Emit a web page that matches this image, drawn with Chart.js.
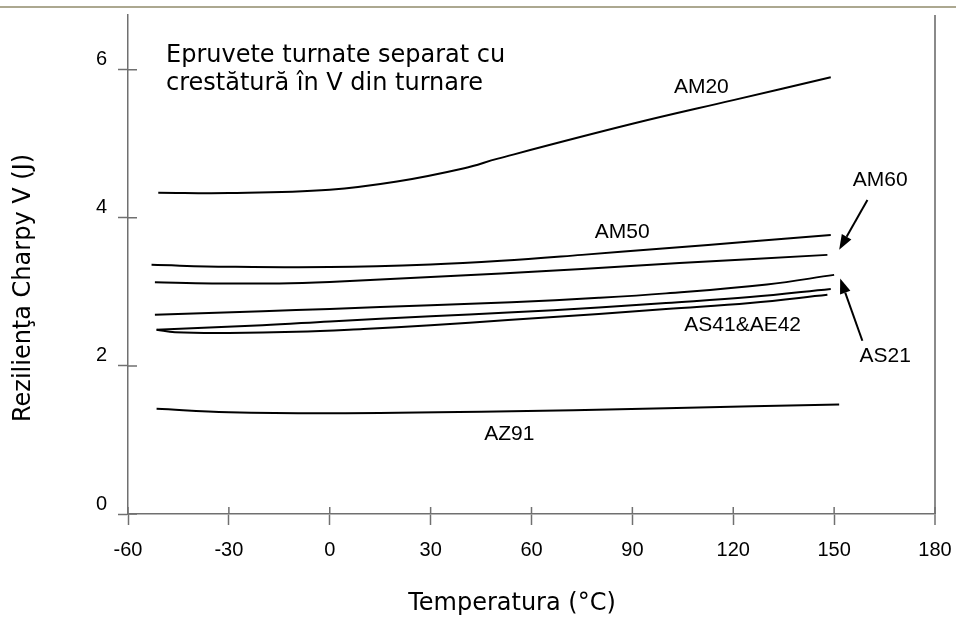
<!DOCTYPE html>
<html>
<head>
<meta charset="utf-8">
<title>Rezilienţa Charpy V</title>
<script src="https://cdn.jsdelivr.net/npm/chart.js@4.4.1/dist/chart.umd.min.js"></script>
<style>
  html, body { margin: 0; padding: 0; background: #fff; }
  #wrap { position: relative; width: 956px; height: 619px; }
  #topline { position: absolute; left: 0; top: 6px; width: 956px; height: 2px; background: #aca890; }
  canvas { position: absolute; left: 0; top: 0; }
</style>
</head>
<body>
<div id="wrap">
  <canvas id="myChart" width="956" height="619"></canvas>
  <div id="topline"></div>
</div>
<script>
// tick values
const xTickValues = [-60, -30, 0, 30, 60, 90, 120, 150, 180];
const yTickValues = [0, 2, 4, 6];

// curves: temperature (°C) / energy (J)
const am20Temp = [-51, -30, 0, 20, 40, 50, 90, 120, 149];
const am20Energy = [4.34, 4.335, 4.38, 4.49, 4.67, 4.80, 5.27, 5.59, 5.90];

const am50Temp = [-53, -30, 0, 30, 51, 75, 100, 125, 149];
const am50Energy = [3.365, 3.34, 3.335, 3.37, 3.42, 3.50, 3.59, 3.68, 3.77];

const am60Temp = [-52, -35, -15, 0, 30, 51, 75, 104, 148];
const am60Energy = [3.13, 3.115, 3.115, 3.135, 3.20, 3.25, 3.31, 3.39, 3.50];

const as21Temp = [-52, -20, 0, 30, 54, 80, 100, 130, 150];
const as21Energy = [2.69, 2.74, 2.77, 2.82, 2.86, 2.92, 2.98, 3.10, 3.23];

const as41Temp = [-51.5, -20, 0, 30, 53, 80, 100, 125, 149];
const as41Energy = [2.49, 2.55, 2.60, 2.67, 2.72, 2.79, 2.85, 2.93, 3.04];

const ae42Temp = [-51.5, -46, -30, -10, 10, 30, 53, 80, 100, 125, 148];
const ae42Energy = [2.49, 2.455, 2.445, 2.46, 2.50, 2.55, 2.62, 2.70, 2.77, 2.85, 2.96];

const az91Temp = [-51.5, -30, 0, 45, 100, 151.5];
const az91Energy = [1.42, 1.375, 1.36, 1.38, 1.43, 1.48];

const curveLabels = ['AM20', 'AM50', 'AM60', 'AS41&AE42', 'AS21', 'AZ91'];
const noteLines = ['Epruvete turnate separat cu', 'crestătură în V din turnare'];
const xTitle = 'Temperatura (°C)';
const yTitle = 'Rezilienţa Charpy V (J)';

const axisGrey = '#707070';

function toPoints(xs, ys) {
    return xs.map((v, i) => ({ x: v, y: ys[i] }));
}

function curve(label, xs, ys) {
    return {
        label: label,
        data: toPoints(xs, ys),
        showLine: true,
        borderColor: '#000',
        borderWidth: 2,
        pointRadius: 0,
        tension: 0.4,
        fill: false
    };
}

function arrow(ctx, x1, y1, x2, y2) {
    const ang = Math.atan2(y2 - y1, x2 - x1);
    const len = 15, half = 5.5;
    const bx = x2 - len * Math.cos(ang), by = y2 - len * Math.sin(ang);
    ctx.beginPath();
    ctx.moveTo(x1, y1);
    ctx.lineTo(bx, by);
    ctx.stroke();
    ctx.beginPath();
    ctx.moveTo(x2, y2);
    ctx.lineTo(bx + half * Math.sin(ang), by - half * Math.cos(ang));
    ctx.lineTo(bx - half * Math.sin(ang), by + half * Math.cos(ang));
    ctx.closePath();
    ctx.fill();
}

// inner tick halves, texts and arrows
const decorations = {
    id: 'decorations',
    afterDraw(chart) {
        const { ctx, scales: { x, y } } = chart;
        ctx.save();

        ctx.strokeStyle = axisGrey;
        ctx.lineWidth = 1.5;
        ctx.beginPath();
        xTickValues.forEach(v => {
            const px = x.getPixelForValue(v);
            ctx.moveTo(px, y.bottom);
            ctx.lineTo(px, y.bottom - 7);
        });
        yTickValues.forEach(v => {
            const py = y.getPixelForValue(v);
            ctx.moveTo(x.left, py);
            ctx.lineTo(x.left + 9, py);
        });
        ctx.stroke();

        ctx.fillStyle = '#000';
        // note in the top left corner
        ctx.font = '24px "DejaVu Sans"';
        ctx.textAlign = 'left';
        ctx.textBaseline = 'alphabetic';
        ctx.fillText(noteLines[0], x.getPixelForValue(-48.7), y.getPixelForValue(6.10));
        ctx.fillText(noteLines[1], x.getPixelForValue(-48.7), y.getPixelForValue(5.73));

        // axis titles
        ctx.textAlign = 'center';
        ctx.fillText(xTitle, (x.left + x.right) / 2 - 19.5, chart.height - 9);
        ctx.save();
        ctx.translate(29.5, (y.top + y.bottom) / 2 + 23.5);
        ctx.rotate(-Math.PI / 2);
        ctx.fillText(yTitle, 0, 0);
        ctx.restore();

        // curve names
        const spots = [[110.5, 5.77], [87.0, 3.80], [163.7, 4.51], [122.8, 2.55], [165.2, 2.13], [53.4, 1.08]];
        ctx.font = '21px "Liberation Sans", Arial';
        ctx.textBaseline = 'middle';
        curveLabels.forEach((t, i) => {
            ctx.fillText(t, x.getPixelForValue(spots[i][0]), y.getPixelForValue(spots[i][1]));
        });

        // arrows to AM60 and AS21
        ctx.strokeStyle = '#000';
        ctx.lineWidth = 2;
        [[159.9, 4.24, 151.5, 3.57], [158.4, 2.34, 151.8, 3.18]].forEach(a => {
            arrow(ctx, x.getPixelForValue(a[0]), y.getPixelForValue(a[1]),
                x.getPixelForValue(a[2]), y.getPixelForValue(a[3]));
        });

        ctx.restore();
    }
};

const ctx = document.getElementById('myChart').getContext('2d');
const chart = new Chart(ctx, {
    type: 'scatter',
    data: {
        datasets: [
            curve('AM20', am20Temp, am20Energy),
            curve('AM50', am50Temp, am50Energy),
            curve('AM60', am60Temp, am60Energy),
            curve('AS21', as21Temp, as21Energy),
            curve('AS41', as41Temp, as41Energy),
            curve('AE42', ae42Temp, ae42Energy),
            curve('AZ91', az91Temp, az91Energy)
        ]
    },
    options: {
        responsive: false,
        animation: false,
        devicePixelRatio: 1,
        layout: { padding: { left: 0, right: 21, top: 15, bottom: 0 } },
        plugins: {
            legend: { display: false },
            tooltip: { enabled: false }
        },
        scales: {
            x: {
                type: 'linear',
                min: -60,
                max: 180,
                afterBuildTicks: (s) => { s.ticks = xTickValues.map(v => ({ value: v })); },
                afterFit: (s) => { s.height = 105; s.paddingLeft = 0; s.paddingRight = 0; },
                border: { display: true, color: axisGrey, width: 1.5 },
                grid: {
                    drawOnChartArea: true,
                    color: (c) => (c.tick && c.tick.value === 180 ? '#8a8a8a' : 'rgba(0,0,0,0)'),
                    lineWidth: (c) => (c.tick && c.tick.value === 180 ? 2 : 1),
                    tickLength: 11,
                    tickColor: axisGrey,
                    tickWidth: 1.5
                },
                ticks: {
                    color: '#000',
                    padding: 13,
                    maxRotation: 0,
                    autoSkip: false,
                    font: { family: '"Liberation Sans", Arial', size: 20 }
                }
            },
            y: {
                type: 'linear',
                min: 0,
                max: 6.74,
                afterBuildTicks: (s) => { s.ticks = yTickValues.map(v => ({ value: v })); },
                afterFit: (s) => { s.width = 128; s.paddingTop = 0; s.paddingBottom = 0; },
                border: { display: true, color: axisGrey, width: 1.5 },
                grid: {
                    drawOnChartArea: false,
                    tickLength: 10,
                    tickColor: axisGrey,
                    tickWidth: 1.5
                },
                ticks: {
                    color: '#000',
                    padding: 11,
                    align: 'end',
                    font: { family: '"Liberation Sans", Arial', size: 20 }
                }
            }
        }
    },
    plugins: [decorations]
});
</script>
</body>
</html>
